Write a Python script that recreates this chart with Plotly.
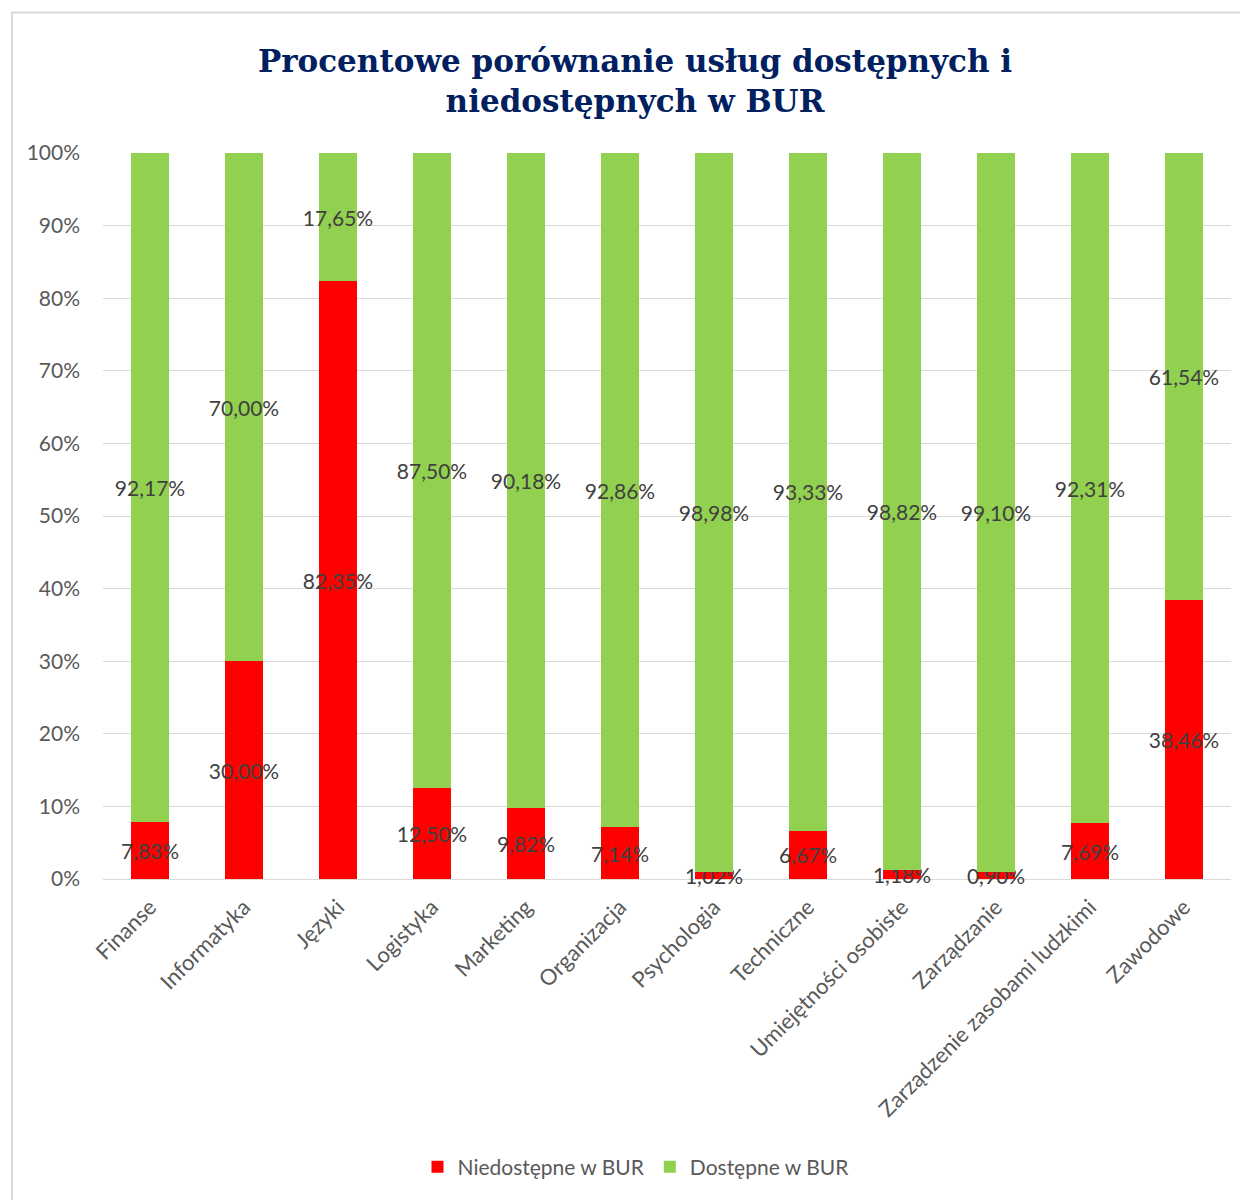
import plotly.graph_objects as go

categories = ["Finanse", "Informatyka", "Języki", "Logistyka", "Marketing", "Organizacja",
              "Psychologia", "Techniczne", "Umiejętności osobiste", "Zarządzanie",
              "Zarządzenie zasobami ludzkimi", "Zawodowe"]
niedostepne = [7.83, 30.00, 82.35, 12.50, 9.82, 7.14, 1.02, 6.67, 1.18, 0.90, 7.69, 38.46]
dostepne = [92.17, 70.00, 17.65, 87.50, 90.18, 92.86, 98.98, 93.33, 98.82, 99.10, 92.31, 61.54]
y_ticks = [0, 10, 20, 30, 40, 50, 60, 70, 80, 90, 100]


def fmt(v):
    return f"{v:.2f}".replace(".", ",") + "%"


SANS = "Lato, Open Sans, sans-serif"
LABEL_FONT = dict(family=SANS, size=21, color="#404040")

fig = go.Figure()
fig.add_trace(go.Bar(
    x=categories, y=niedostepne, name="Niedostępne w BUR",
    marker=dict(color="#FF0000", line=dict(width=0)),
    text=[fmt(v) for v in niedostepne], textposition="inside",
    insidetextanchor="middle", textangle=0, constraintext="none",
    textfont=LABEL_FONT, hoverinfo="x+y", cliponaxis=False,
))
fig.add_trace(go.Bar(
    x=categories, y=dostepne, name="Dostępne w BUR",
    marker=dict(color="#92D050", line=dict(width=0)),
    text=[fmt(v) for v in dostepne], textposition="inside",
    insidetextanchor="middle", textangle=0, constraintext="none",
    textfont=LABEL_FONT, hoverinfo="x+y", cliponaxis=False,
))

# page has an 8px body margin; figure coordinates are page coordinates - 8
OFF = 8
W, H = 1248 - OFF, 1200 - OFF
L, T = 103 - OFF, 153 - OFF
pw, ph = 1128, 728
R = W - L - pw
B = H - T - ph

fig.update_layout(
    barmode="stack",
    bargap=0.6,
    width=W, height=H,
    margin=dict(l=L, r=R, t=T, b=B),
    paper_bgcolor="white",
    plot_bgcolor="white",
    title=dict(
        text="<b>Procentowe porównanie usług dostępnych i<br>niedostępnych w BUR</b>",
        font=dict(family="DejaVu Serif, serif", size=31, color="#002060"),
        x=(635 - OFF) / W, xanchor="center", xref="container",
        y=1 - (72 - OFF) / H, yanchor="middle", yref="container",
    ),
    xaxis=dict(
        tickangle=-45,
        tickfont=dict(family=SANS, size=22, color="#595959"),
        showgrid=False, showline=False, zeroline=False, ticks="",
        ticklabelstandoff=10,
    ),
    yaxis=dict(
        range=[0, 100], tickvals=y_ticks, ticktext=[f"{v}%" for v in y_ticks],
        tickfont=dict(family=SANS, size=21, color="#595959"),
        showgrid=True, gridcolor="#D9D9D9", gridwidth=1,
        zeroline=True, zerolinecolor="#D9D9D9", zerolinewidth=1,
        showline=False, ticks="", ticklabelstandoff=22,
    ),
    legend=dict(
        orientation="h", x=(636 - OFF - L) / pw, xanchor="center",
        y=-(1170 - OFF - (T + ph)) / ph, yanchor="middle",
        font=dict(family=SANS, size=21, color="#595959"),
        traceorder="normal", itemwidth=30,
    ),
    showlegend=True,
    shapes=[dict(
        type="rect", xref="paper", yref="paper",
        x0=(12 - OFF - L) / pw, x1=(W + 20 - L) / pw,
        y0=-(H + 20 - (T + ph)) / ph, y1=1 + (T - (12 - OFF)) / ph,
        line=dict(color="#D9D9D9", width=2), fillcolor="rgba(0,0,0,0)", layer="below",
    )],
)

fig.write_html("out.html")
